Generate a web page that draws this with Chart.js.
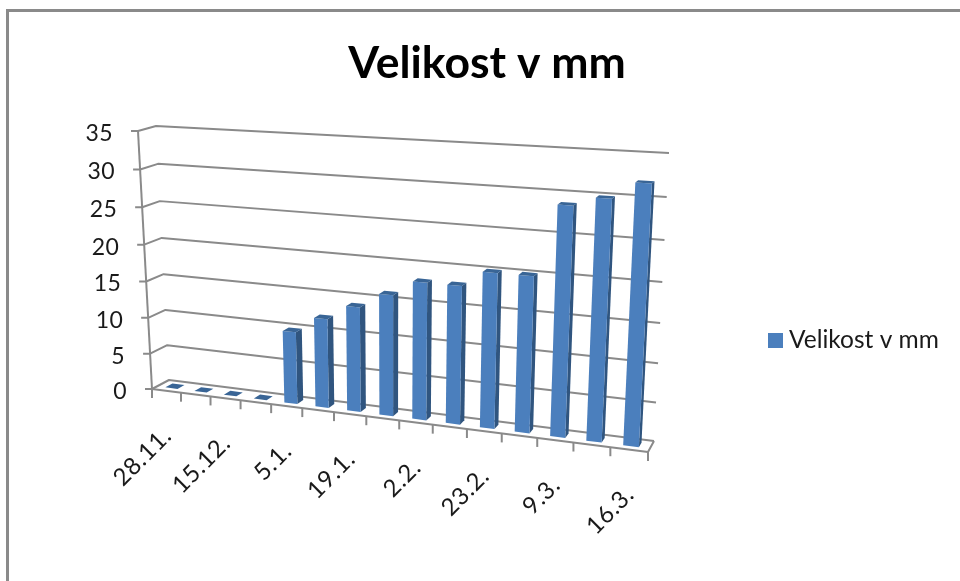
<!DOCTYPE html>
<html>
<head>
    <title>Velikost v mm</title>
    <script src="https://cdn.jsdelivr.net/npm/chart.js"></script>
    <style>
        html, body { margin: 0; background: #fff; }
        #wrap { width: 960px; height: 581px; position: relative; overflow: hidden; }
        #frame { position: absolute; left: 6px; top: 9px; right: -10px; bottom: -10px; border: 3px solid #8a8a8a; }
        canvas { position: absolute; left: 0; top: 0; filter: blur(0.45px); }
    </style>
</head>
<body>
    <div id="wrap"><div id="frame"></div><canvas id="myChart" width="960" height="581"></canvas></div>

    <script>
        // only every second date is printed on the axis
        const categories = ['28.11.', '', '15.12.', '', '5.1.', '', '19.1.', '', '2.2.', '', '23.2.', '', '9.3.', '', '16.3.'];
        const sizes = [0, 0, 0, 0, 9.8, 12, 14, 16, 18, 18, 20, 20, 28.8, 29.9, 31.9];
        const seriesName = 'Velikost v mm';
        const titleText = 'Velikost v mm';
        const yMax = 35;
        const yStep = 5;

        const FONT = 'Lato, "Open Sans", sans-serif';
        const GREY = '#8a8a8a';
        const BLUE = '#4b7fbd';

        // corners of the 3D box on screen [x, y]; F/B front/back, L/R left/right, 0/1 floor/top
        const box = {
            F0L: [152, 389], F1L: [138, 131],
            B0L: [169, 380], B1L: [156, 126],
            F0R: [648, 452], F1R: [663, 158],
            B0R: [654, 441], B1R: [669, 153]
        };

        function warp(t, k) { return t / (t + k * (1 - t)); }
        function mix(a, b, t) { return [a[0] + (b[0] - a[0]) * t, a[1] + (b[1] - a[1]) * t]; }

        // u along the categories, v up the value axis, w into the depth, all 0..1
        function project(u, v, w) {
            const fu = warp(u, 1.15), fv = warp(v, 1.05 + 0.03 * fu);
            const front = mix(mix(box.F0L, box.F0R, fu), mix(box.F1L, box.F1R, fu), fv);
            const back = mix(mix(box.B0L, box.B0R, fu), mix(box.B1L, box.B1R, fu), fv);
            return mix(front, back, w);
        }

        function line(ctx, pts, close) {
            ctx.beginPath();
            pts.forEach((p, i) => i ? ctx.lineTo(p[0], p[1]) : ctx.moveTo(p[0], p[1]));
            if (close) ctx.closePath();
        }

        const box3d = {
            id: 'box3d',
            beforeDatasetsDraw(chart) {
                const ctx = chart.ctx;
                const area = chart.chartArea;
                const xs = chart.scales.x, ys = chart.scales.y;
                const toU = px => (px - area.left) / area.width;
                const toV = px => (area.bottom - px) / area.height;

                ctx.save();
                ctx.strokeStyle = GREY;
                ctx.lineWidth = 2;
                ctx.lineJoin = 'round';

                // side wall + back wall gridlines and value labels
                ys.ticks.forEach(t => {
                    const v = toV(ys.getPixelForValue(t.value));
                    const a = project(0, v, 0), b = project(0, v, 1), c = project(1, v, 1);
                    line(ctx, [[a[0] - 7, a[1]], a, b, c]);
                    ctx.stroke();
                    ctx.fillStyle = '#1a1a1a';
                    ctx.font = '23px ' + FONT;
                    ctx.letterSpacing = '0.4px';
                    ctx.textAlign = 'right';
                    ctx.textBaseline = 'middle';
                    ctx.fillText(String(t.value), a[0] - 25, a[1] + 2.5);
                });

                // value axis
                line(ctx, [project(0, 0, 0), project(0, 1, 0)]);
                ctx.stroke();

                // floor outline
                line(ctx, [project(0, 0, 0), project(1, 0, 0), project(1, 0, 1)]);
                ctx.stroke();

                // category tick marks
                const n = categories.length;
                for (let i = 0; i <= n; i++) {
                    const p = project(i / n, 0, 0);
                    line(ctx, [p, [p[0], p[1] + 9]]);
                    ctx.stroke();
                }

                // category labels
                categories.forEach((label, i) => {
                    if (!label) return;
                    const p = project(toU(xs.getPixelForValue(i)), 0, 0);
                    ctx.save();
                    ctx.translate(p[0] + 1, p[1] + 41);
                    ctx.rotate(-Math.PI / 4);
                    ctx.fillStyle = '#1a1a1a';
                    ctx.font = '24px ' + FONT;
                    ctx.letterSpacing = '0.6px';
                    ctx.textAlign = 'right';
                    ctx.textBaseline = 'middle';
                    ctx.fillText(label, 0, 0);
                    ctx.restore();
                });

                // bars, taken from the bar elements of the chart
                const w0 = 0.3, w1 = 0.72;
                chart.getDatasetMeta(0).data.forEach(el => {
                    const u0 = toU(el.x - el.width / 2), u1 = toU(el.x + el.width / 2);
                    const v0 = toV(el.base), v1 = toV(el.y);
                    const face = [project(u0, v0, w0), project(u1, v0, w0), project(u1, v1, w0), project(u0, v1, w0)];
                    const side = [project(u1, v0, w0), project(u1, v0, w1), project(u1, v1, w1), project(u1, v1, w0)];
                    const top = [project(u0, v1, w0), project(u1, v1, w0), project(u1, v1, w1), project(u0, v1, w1)];
                    [[side, '#30557f'], [face, BLUE], [top, '#396596']].forEach(f => {
                        line(ctx, f[0], true);
                        ctx.fillStyle = f[1];
                        ctx.fill();
                    });
                });
                ctx.restore();
                return false;
            },
            afterDraw(chart) {
                // legend drawn here: the built-in one leaves too wide a gap after the swatch
                const ctx = chart.ctx;
                const ds = chart.data.datasets[0];
                ctx.save();
                ctx.fillStyle = ds.backgroundColor;
                ctx.fillRect(768, 333, 15, 15);
                ctx.fillStyle = '#1a1a1a';
                ctx.font = '24.5px ' + FONT;
                ctx.textAlign = 'left';
                ctx.textBaseline = 'middle';
                ctx.fillText(ds.label, 789, 340);
                ctx.restore();
            }
        };

        new Chart(document.getElementById('myChart').getContext('2d'), {
            type: 'bar',
            data: {
                labels: categories,
                datasets: [{
                    label: seriesName,
                    data: sizes,
                    backgroundColor: BLUE,
                    borderColor: BLUE,
                    categoryPercentage: 1,
                    barPercentage: 0.42
                }]
            },
            plugins: [box3d],
            options: {
                responsive: false,
                animation: false,
                layout: { padding: { left: 24, right: 10, top: 37, bottom: 0 } },
                scales: {
                    x: { display: false },
                    y: { display: false, min: 0, max: yMax, ticks: { stepSize: yStep } }
                },
                plugins: {
                    tooltip: { enabled: false },
                    legend: { display: false },
                    title: {
                        display: true,
                        text: titleText,
                        color: '#000',
                        font: { family: FONT, size: 44.5, weight: 'bold' },
                        padding: 0
                    }
                }
            }
        });
    </script>
</body>
</html>
